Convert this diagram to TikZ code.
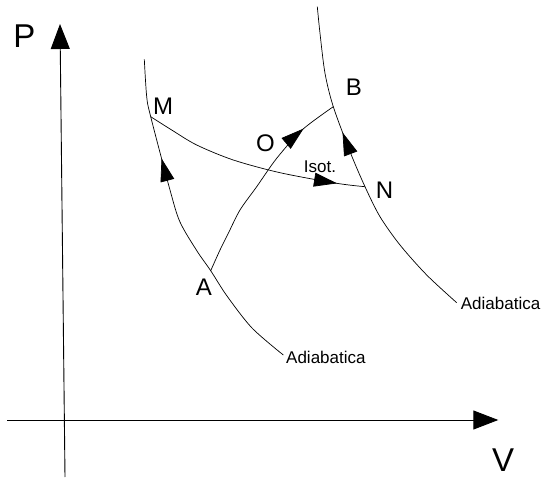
\documentclass[tikz,border=0pt]{standalone}
\usepackage{fontspec}
\setmainfont{Liberation Sans}
\usetikzlibrary{arrows.meta,decorations.markings}

\begin{document}
\begin{tikzpicture}[
    x=1pt, y=-1pt,
    axis/.style={-{Triangle[length=25pt,width=19pt]}, line width=0.9pt},
    curve/.style={line width=0.7pt},
    flow/.style={postaction={decorate}, decoration={markings,
        mark=at position #1 with {\arrow{Triangle[length=23pt,width=14pt]}}}},
    point/.style={font=\fontsize{24}{28}\selectfont, inner sep=0pt},
    axislabel/.style={font=\fontsize{33}{38}\selectfont, inner sep=0pt},
    note/.style={font=\fontsize{17}{20}\selectfont, inner sep=0pt}
]
\useasboundingbox (0,0) rectangle (541,478);

% Axes
\coordinate (Pbot) at (65,477);
\coordinate (Ptop) at (60,24);
\coordinate (Vleft) at (7,420);
\coordinate (Vright) at (498.3,420);
\draw[axis] (Pbot) -- (Ptop);
\draw[axis] (Vleft) -- (Vright);
\node[axislabel] (P) at (24.5,36.5) {P};
\node[axislabel] (V) at (503,460) {V};

% Points
\coordinate (M) at (150.7,116.7);
\coordinate (N) at (365,186.7);
\coordinate (A) at (210.7,270.7);
\coordinate (B) at (333.3,106.7);

% Adiabats
\draw[curve, flow=236pt] plot[smooth, tension=0.5] coordinates {(283.3,355) (252,328) (227,296) (A)
    (197,251) (180,222) (170,190) (M) (146.7,96.7) (144.3,59.3)};
\draw[curve, flow=208pt] plot[smooth, tension=0.5] coordinates {(456.7,302.7) (426.7,275) (400,245)
    (380,216.7) (N) (350,151.7) (B) (325,73.3) (320,33.3) (317.3,6.7)};

% Isotherm and path A-B
\draw[curve, flow=200pt] plot[smooth, tension=0.5] coordinates {(M) (171.7,130) (196.7,145)
    (233.3,160) (280,172.7) (336.7,183.3) (N)};
\draw[curve, flow=171pt] plot[smooth, tension=0.5] coordinates {(A) (220,250) (228.3,233.3)
    (240,210) (256.7,186.7) (276.7,158.3) (302,130) (B)};

% Labels
\node[point] (Mlabel) at (163,106) {M};
\node[point] (Blabel) at (354,87.5) {B};
\node[point] (Olabel) at (265.5,143.5) {O};
\node[point] (Nlabel) at (384.5,190) {N};
\node[point] (Alabel) at (204,287) {A};
\node[note] (isot) at (320,167) {Isot.};
\node[note, anchor=west] (adiab1) at (286,357) {Adiabatica};
\node[note, anchor=west] (adiab2) at (460.7,303) {Adiabatica};

\end{tikzpicture}
\end{document}
